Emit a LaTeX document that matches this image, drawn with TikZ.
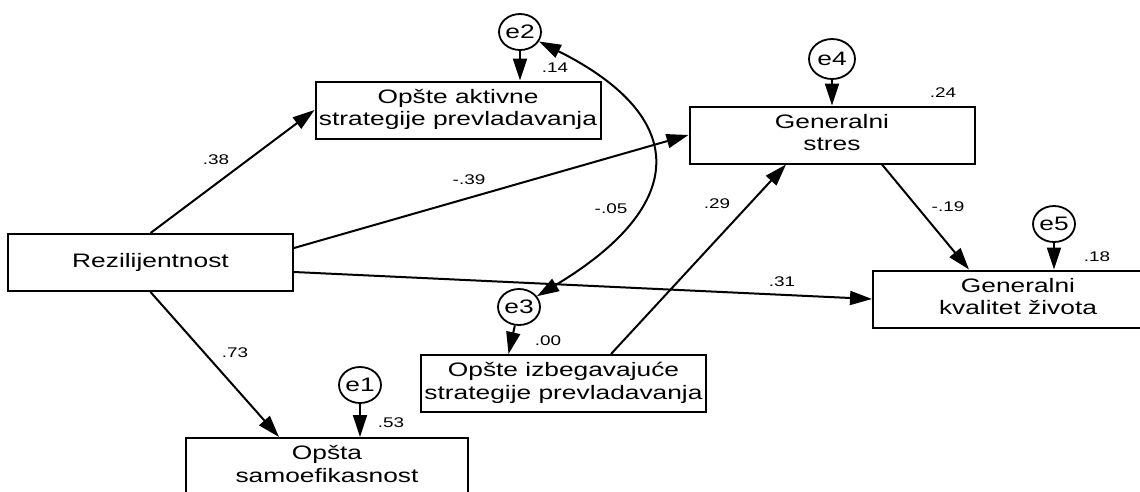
\documentclass[tikz,border=0pt]{standalone}
\usepackage{fontspec}
\setmainfont{Liberation Sans}
\usetikzlibrary{arrows.meta,shapes.geometric}
\newcommand\bt[1]{\scalebox{1.35}[1]{\begin{tabular}{@{}c@{}}#1\end{tabular}}}
\newcommand\lt[1]{\scalebox{1.35}[1]{#1}}
\begin{document}
\begin{tikzpicture}[x=1pt,y=-1pt,
 box/.style={draw, line width=2pt, minimum width=285pt, minimum height=57pt, inner sep=0pt, font=\fontsize{19.5}{22.5}\selectfont},
 err/.style={draw, ellipse, line width=1.8pt, minimum width=42pt, minimum height=36pt, inner sep=0pt, font=\fontsize{19.5}{22}\selectfont},
 lbl/.style={inner sep=0pt, font=\fontsize{14}{16}\selectfont},
 arr/.style={line width=2pt, -{Triangle[length=22pt,width=14pt]}},
 dbl/.style={line width=2pt, {Triangle[length=22pt,width=14pt]}-{Triangle[length=22pt,width=14pt]}}
]
\clip (0,0) rectangle (1140,491);
\fill[white] (0,0) rectangle (1140,491);
% boxes
\node[box] (R) at (150.5,262.5) {\lt{Rezilijentnost}};
\node[box] (A) at (458,110) {\bt{Opšte aktivne\\strategije prevladavanja}};
\node[box] (S) at (832,135) {\bt{Generalni\\stres}};
\node[box, minimum width=290pt] (K) at (1018,299) {\bt{Generalni\\kvalitet života}};
\node[box] (I) at (563.5,383.5) {\bt{Opšte izbegavajuće\\strategije prevladavanja}};
\node[box, minimum width=282pt] (O) at (327,466.5) {\bt{Opšta\\samoefikasnost}};
% error terms
\node[err] (e2) at (520,32) {\lt{e2}};
\node[err, minimum width=46pt, minimum height=40pt] (e4) at (832,59) {\lt{e4}};
\node[err] (e5) at (1054,224) {\lt{e5}};
\node[err] (e3) at (519,307) {\lt{e3}};
\node[err] (e1) at (360,385) {\lt{e1}};
% paths
\draw[arr] (R.north) -- (A.west);
\draw[arr] ([yshift=14.5pt]R.east) -- (S.west);
\draw[arr] ([yshift=-9.5pt]R.east) -- (K.west);
\draw[arr] (R.south) -- ([xshift=-48pt]O.north);
\draw[arr] ([xshift=47.5pt]I.north) -- ([xshift=-46pt]S.south);
\draw[arr] ([xshift=50pt]S.south) -- ([xshift=-49pt]K.north);
\draw[arr] (e2) -- (e2 |- A.north);
\draw[arr] (e4) -- (e4 |- S.north);
\draw[arr] (e5) -- (e5 |- K.north);
\draw[arr] (e1) -- (e1 |- O.north);
\draw[arr] (e3) -- ([xshift=-55pt]I.north);
\draw[dbl] (e2) .. controls (690,117) and (689,205) .. (e3);
% labels
\node[lbl] (l38) at (216,160) {\lt{.38}};
\node[lbl] (l39) at (469,180) {\lt{-.39}};
\node[lbl] (l05) at (611,209) {\lt{-.05}};
\node[lbl] (l29) at (717,204) {\lt{.29}};
\node[lbl] (l19) at (948,207) {\lt{-.19}};
\node[lbl] (l24) at (943,93) {\lt{.24}};
\node[lbl] (l14) at (555,68) {\lt{.14}};
\node[lbl] (l18) at (1097,257) {\lt{.18}};
\node[lbl] (l31) at (782,282) {\lt{.31}};
\node[lbl] (l00) at (548,341) {\lt{.00}};
\node[lbl] (l53) at (391,423) {\lt{.53}};
\node[lbl] (l73) at (235,353) {\lt{.73}};
\end{tikzpicture}
\end{document}
